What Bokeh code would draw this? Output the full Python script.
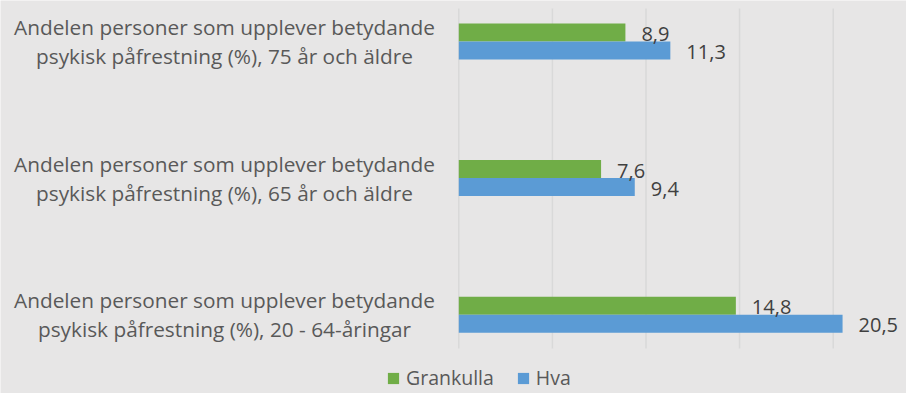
from bokeh.plotting import figure
from bokeh.models import (ColumnDataSource, Range1d, LabelSet, Legend, LegendItem)
from bokeh.transform import dodge
from bokeh.core.properties import value
from bokeh.embed import file_html
from bokeh.resources import INLINE

# ---- data ----
categories = [
    "Andelen personer som upplever betydande\npsykisk påfrestning (%), 75 år och äldre",
    "Andelen personer som upplever betydande\npsykisk påfrestning (%), 65 år och äldre",
    "Andelen personer som upplever betydande\npsykisk påfrestning (%), 20 - 64-åringar",
]
series = ["Grankulla", "Hva"]
grankulla = [8.9, 7.6, 14.8]
hva = [11.3, 9.4, 20.5]
x_ticks = [0, 5, 10, 15, 20]

# ---- style / layout ----
GREEN = "#70ad47"
BLUE = "#5b9bd5"
BG = "#e7e6e6"
GRID = "#d9d9d9"
FONT = "Open Sans"
W, H = 906, 393
PX_X = 18.72        # px per x unit
PX_Y = 136.6        # px per category step
X0_PX = 458.3       # screen x of value 0
Y0_PX = 41.0        # screen y of first category centre
PLOT_TOP_PX, PLOT_BOTTOM_PX = 8, 348
LABEL_X_PX = 224    # centre of category text

def ypx(px):
    return (px - Y0_PX) / PX_Y

def xpx(px):
    return (px - X0_PX) / PX_X

pos = list(range(len(categories)))
fmt = lambda v: f"{v:.1f}".replace(".", ",")
src = ColumnDataSource(dict(
    pos=pos, cat=categories, g=grankulla, h=hva,
    gl=[fmt(v) for v in grankulla], hl=[fmt(v) for v in hva],
))

p = figure(width=W, height=H, output_backend="svg", toolbar_location=None,
           x_range=Range1d(xpx(0), xpx(W)), y_range=Range1d(ypx(H), ypx(0)),
           x_axis_location=None, y_axis_location=None)
p.min_border = 0
p.min_border_left = p.min_border_right = p.min_border_top = p.min_border_bottom = 0
p.background_fill_color = BG
p.border_fill_color = BG
p.outline_line_color = None
p.xgrid.visible = False
p.ygrid.visible = False

# vertical gridlines (incl. the axis line at 0)
p.segment(x0=x_ticks, x1=x_ticks, y0=[ypx(PLOT_TOP_PX)] * len(x_ticks),
          y1=[ypx(PLOT_BOTTOM_PX)] * len(x_ticks), line_color=GRID, line_width=1.5)

off = 9 / PX_Y
bh = 18 / PX_Y
rg = p.hbar(y=dodge("pos", -off, range=p.y_range), left=0, right="g", height=bh,
            source=src, fill_color=GREEN, line_color=None)
rb = p.hbar(y=dodge("pos", off, range=p.y_range), left=0, right="h", height=bh,
            source=src, fill_color=BLUE, line_color=None)

for col, lab, o in (("g", "gl", -off), ("h", "hl", off)):
    p.add_layout(LabelSet(x=col, y=dodge("pos", o, range=p.y_range), text=lab,
                          source=src, x_offset=16, y_offset=-1.5, text_align="left",
                          text_baseline="middle", text_font=value(FONT),
                          text_font_size="20px", text_color="#404040"))

# category labels
p.text(x=xpx(LABEL_X_PX), y="pos", text="cat", source=src, text_align="center",
       text_baseline="middle", text_font=value(FONT), text_font_size="20.8px",
       text_color="#595959", text_line_height=1.03)

legend = Legend(items=[LegendItem(label=series[0], renderers=[rg]),
                       LegendItem(label=series[1], renderers=[rb])],
                orientation="horizontal", location=(386, 2), padding=0, margin=0,
                spacing=22, glyph_width=14, glyph_height=14, label_standoff=6,
                label_text_font=FONT, label_text_font_size="19.5px",
                label_text_color="#595959", background_fill_alpha=0,
                border_line_color=None)
p.add_layout(legend, "center")

open("out.html", "w").write(file_html(p, INLINE))
